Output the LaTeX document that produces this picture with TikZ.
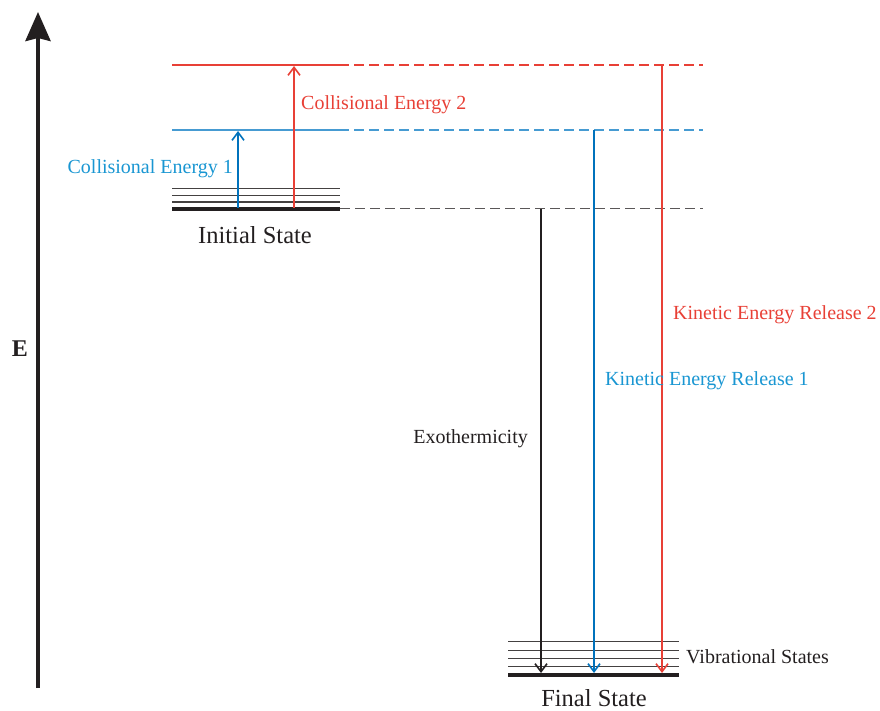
\documentclass[tikz,border=0pt]{standalone}
\usepackage{fontspec}
\setmainfont{Liberation Serif}
\usetikzlibrary{arrows.meta}
\definecolor{cblue}{RGB}{0,114,188}
\definecolor{lblue}{RGB}{70,155,210}
\definecolor{tblue}{RGB}{25,150,210}
\definecolor{cred}{RGB}{232,64,54}
\definecolor{cblk}{RGB}{35,31,32}
\begin{document}
\begin{tikzpicture}[x=1pt,y=-1pt,
  lbl/.style={font=\fontsize{20}{24}\selectfont, inner sep=0pt},
  big/.style={font=\fontsize{24.5}{28}\selectfont, inner sep=0pt},
  thinlev/.style={line width=1.1pt, draw=cblk!85},
  thicklev/.style={line width=4pt, draw=cblk},
  guide/.style={line width=1.3pt, dash pattern=on 10pt off 5pt},
  tr/.style={line width=2pt, -{Straight Barb[length=8pt,width=12pt,line width=1.6pt]}}]
\useasboundingbox (0,0) rectangle (880,711);

% energy axis
\coordinate (ax0) at (38,688);
\coordinate (ax1) at (38,12);
\draw[line width=4pt, cblk, -{Stealth[length=29pt,width=25pt,inset=3pt]}] (ax0) -- (ax1);
\node[font=\fontsize{24}{28}\selectfont\bfseries, inner sep=0pt, cblk] (elab) at (20,349) {E};

% initial state and its vibrational levels
\coordinate (iL) at (172,208.7);  \coordinate (iR) at (340,208.7);
\foreach \yy in {188.3,195.3,202} \draw[thinlev] (172,\yy) -- (340,\yy);
\draw[thicklev] (iL) -- (iR);
\node[big, cblk] (initial) at (255,235) {Initial State};

% collision energy levels
\coordinate (bL) at (172,130);  \coordinate (bM) at (349,130);  \coordinate (bR) at (703,130);
\coordinate (rL) at (172,65);   \coordinate (rM) at (349,65);   \coordinate (rR) at (703,65);
\draw[lblue, line width=1.2pt] (bL) -- (bM);
\draw[cred, line width=1.2pt] (rL) -- (rM);
\draw[lblue, guide, dash phase=10pt] (bM) -- (bR);
\draw[cred, guide, dash phase=10pt] (rM) -- (rR);
\draw[cblk!75, guide] (iR) -- (703,208.7);

% final state and its vibrational levels
\coordinate (fL) at (508,675); \coordinate (fR) at (679,675);
\foreach \yy in {641.7,650.7,658.7,666.7} \draw[thinlev] (508,\yy) -- (679,\yy);
\draw[thicklev] (fL) -- (fR);
\node[big, cblk] (final) at (594,698) {Final State};
\node[lbl, cblk, anchor=west] (vib) at (686,657) {Vibrational States};

% collision energies
\coordinate (c1a) at (238,208); \coordinate (c1b) at (238,131);
\coordinate (c2a) at (294,208); \coordinate (c2b) at (294,66);
\draw[tr, cblue] (c1a) -- (c1b);
\draw[tr, cred] (c2a) -- (c2b);
\node[lbl, tblue, anchor=east] (ce1) at (233,169) {Collisional Energy 1};
\node[lbl, cred, anchor=west] (ce2) at (301,105) {Collisional Energy 2};

% exothermicity and kinetic energy releases
\coordinate (xa) at (541,209); \coordinate (xb) at (541,673);
\coordinate (k1a) at (594,130); \coordinate (k1b) at (594,673);
\coordinate (k2a) at (662,65);  \coordinate (k2b) at (662,673);
\draw[tr, cblk] (xa) -- (xb);
\draw[tr, cblue] (k1a) -- (k1b);
\draw[tr, cred] (k2a) -- (k2b);
\node[lbl, cblk, anchor=east] (exo) at (528,439) {Exothermicity};
\node[lbl, tblue, anchor=west] (ker1) at (605,381) {Kinetic Energy Release 1};
\node[lbl, cred, anchor=west] (ker2) at (673,315) {Kinetic Energy Release 2};
\end{tikzpicture}
\end{document}
